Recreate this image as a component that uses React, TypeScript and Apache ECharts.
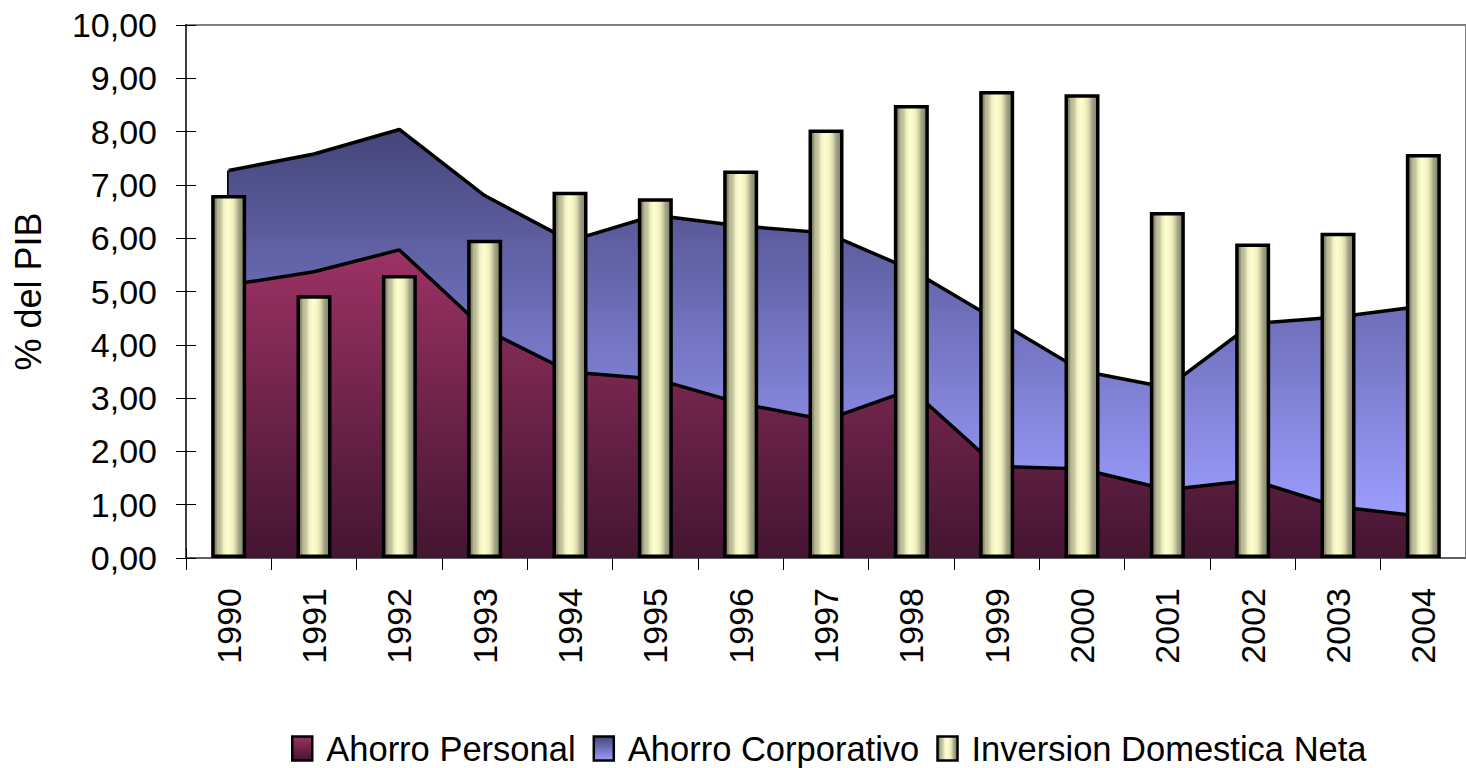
import React, { useEffect, useRef } from 'react';
import * as echarts from 'echarts';

const years = ['1990', '1991', '1992', '1993', '1994', '1995', '1996', '1997', '1998', '1999', '2000', '2001', '2002', '2003', '2004'];
const ahorroPersonal = [5.12, 5.37, 5.78, 4.29, 3.49, 3.36, 2.9, 2.59, 3.16, 1.72, 1.67, 1.28, 1.46, 0.96, 0.78];
const ahorroCorporativo = [2.15, 2.21, 2.26, 2.51, 2.46, 3.07, 3.33, 3.51, 2.25, 2.74, 1.84, 1.92, 2.94, 3.56, 3.95];
const inversionNeta = [6.81, 4.93, 5.31, 5.97, 6.87, 6.75, 7.27, 8.04, 8.5, 8.76, 8.7, 6.49, 5.9, 6.1, 7.58];
const seriesNames = ['Ahorro Personal', 'Ahorro Corporativo', 'Inversion Domestica Neta'];
const yAxisTitle = '% del PIB';

const FONT = "'Liberation Sans', Arial, sans-serif";

export default function App() {
  const ref = useRef<HTMLDivElement>(null);

  useEffect(() => {
    const chart = echarts.init(ref.current as HTMLDivElement, null, { renderer: 'svg' });

    const personalGrad = () =>
      new echarts.graphic.LinearGradient(0, 0, 0, 1, [
        { offset: 0, color: '#9c3264' },
        { offset: 1, color: '#431530' },
      ]);
    const corpGrad = () =>
      new echarts.graphic.LinearGradient(0, 0, 0, 1, [
        { offset: 0, color: '#45457a' },
        { offset: 1, color: '#9c9cff' },
      ]);
    const barGrad = () =>
      new echarts.graphic.LinearGradient(0, 0, 1, 0, [
        { offset: 0, color: '#7e7e60' },
        { offset: 0.1, color: '#8e8e70' },
        { offset: 0.14, color: '#b4b492' },
        { offset: 0.26, color: '#c8c8a2' },
        { offset: 0.34, color: '#efefc4' },
        { offset: 0.48, color: '#ffffcd' },
        { offset: 0.62, color: '#f2f2c2' },
        { offset: 0.72, color: '#d8d8b0' },
        { offset: 0.8, color: '#aeae8e' },
        { offset: 0.9, color: '#929274' },
        { offset: 1, color: '#7c7c5e' },
      ]);

    const totalFirst = ahorroPersonal[0] + ahorroCorporativo[0];

    const yFmt = (v: number) => v.toFixed(2).replace('.', ',');

    const option = {
      animation: false,
      backgroundColor: '#ffffff',
      grid: {
        left: 186,
        top: 25,
        right: -10,
        bottom: 210,
        show: true,
        borderColor: '#808080',
        borderWidth: 2,
        backgroundColor: 'transparent',
      },
      legend: {
        left: 291,
        top: 731,
        padding: 0,
        itemWidth: 20,
        itemHeight: 24,
        itemGap: 17,
        icon: 'rect',
        textStyle: { fontSize: 34.5, fontFamily: FONT, color: '#000', padding: [0, 0, 0, 9] },
        data: [
          { name: seriesNames[0], itemStyle: { color: personalGrad(), borderColor: '#000', borderWidth: 2.5 } },
          { name: seriesNames[1], itemStyle: { color: corpGrad(), borderColor: '#000', borderWidth: 2.5 } },
          { name: seriesNames[2], itemStyle: { color: barGrad(), borderColor: '#000', borderWidth: 2.5 } },
        ],
      },
      xAxis: [
        {
          type: 'category',
          data: years,
          position: 'bottom',
          boundaryGap: true,
          axisLine: { show: true, lineStyle: { color: '#606060', width: 2 } },
          axisTick: { show: true, length: 12, lineStyle: { color: '#000', width: 1 } },
          axisLabel: {
            rotate: 90,
            margin: 30,
            fontSize: 34,
            fontFamily: FONT,
            color: '#000',
          },
          splitLine: { show: false },
        },
        {
          type: 'category',
          data: years,
          position: 'bottom',
          boundaryGap: true,
          axisLine: { show: false },
          axisTick: { show: true, inside: true, length: 10, lineStyle: { color: '#000', width: 1 } },
          axisLabel: { show: false },
          splitLine: { show: false },
        },
      ],
      yAxis: [
        {
          type: 'value',
          min: 0,
          max: 10,
          interval: 1,
          position: 'left',
          name: yAxisTitle,
          nameLocation: 'middle',
          nameRotate: 90,
          nameGap: 140,
          nameTextStyle: { fontSize: 36, fontFamily: FONT, color: '#000' },
          axisLine: { show: true, lineStyle: { color: '#404040', width: 2 } },
          axisTick: { show: true, length: 10, lineStyle: { color: '#000', width: 1 } },
          axisLabel: { margin: 29, fontSize: 34, fontFamily: FONT, color: '#000', formatter: yFmt },
          splitLine: { show: false },
        },
        {
          type: 'value',
          min: 0,
          max: 10,
          interval: 1,
          position: 'left',
          axisLine: { show: false },
          axisTick: { show: true, inside: true, length: 10, lineStyle: { color: '#000', width: 1 } },
          axisLabel: { show: false },
          splitLine: { show: false },
        },
      ],
      series: [
        {
          name: seriesNames[0],
          type: 'line',
          stack: 'ahorro',
          data: ahorroPersonal,
          xAxisIndex: 0,
          yAxisIndex: 0,
          symbol: 'none',
          showSymbol: false,
          z: 2,
          itemStyle: { color: '#9c3264' },
          lineStyle: { color: '#000', width: 3.5 },
          areaStyle: { color: personalGrad(), opacity: 1 },
        },
        {
          name: seriesNames[1],
          type: 'line',
          stack: 'ahorro',
          data: ahorroCorporativo,
          xAxisIndex: 0,
          yAxisIndex: 0,
          symbol: 'none',
          showSymbol: false,
          z: 2,
          itemStyle: { color: '#6a6ab0' },
          lineStyle: { color: '#000', width: 3.5 },
          areaStyle: { color: corpGrad(), opacity: 1 },
          markLine: {
            silent: true,
            z: 2,
            symbol: 'none',
            label: { show: false },
            lineStyle: { color: '#000', width: 3, type: 'solid' },
            data: [[{ coord: [0, ahorroPersonal[0]] }, { coord: [0, totalFirst] }]],
          },
        },
        {
          name: seriesNames[2],
          type: 'bar',
          data: inversionNeta,
          xAxisIndex: 0,
          yAxisIndex: 0,
          barWidth: 35,
          z: 6,
          itemStyle: { color: barGrad(), borderColor: '#000', borderWidth: 3.5 },
        },
      ],
    };

    chart.setOption(option as any);
    return () => chart.dispose();
  }, []);

  return (
    <div
      ref={ref}
      style={{ position: 'fixed', left: 0, top: 0, width: 1466, height: 768, background: '#fff' }}
    />
  );
}
